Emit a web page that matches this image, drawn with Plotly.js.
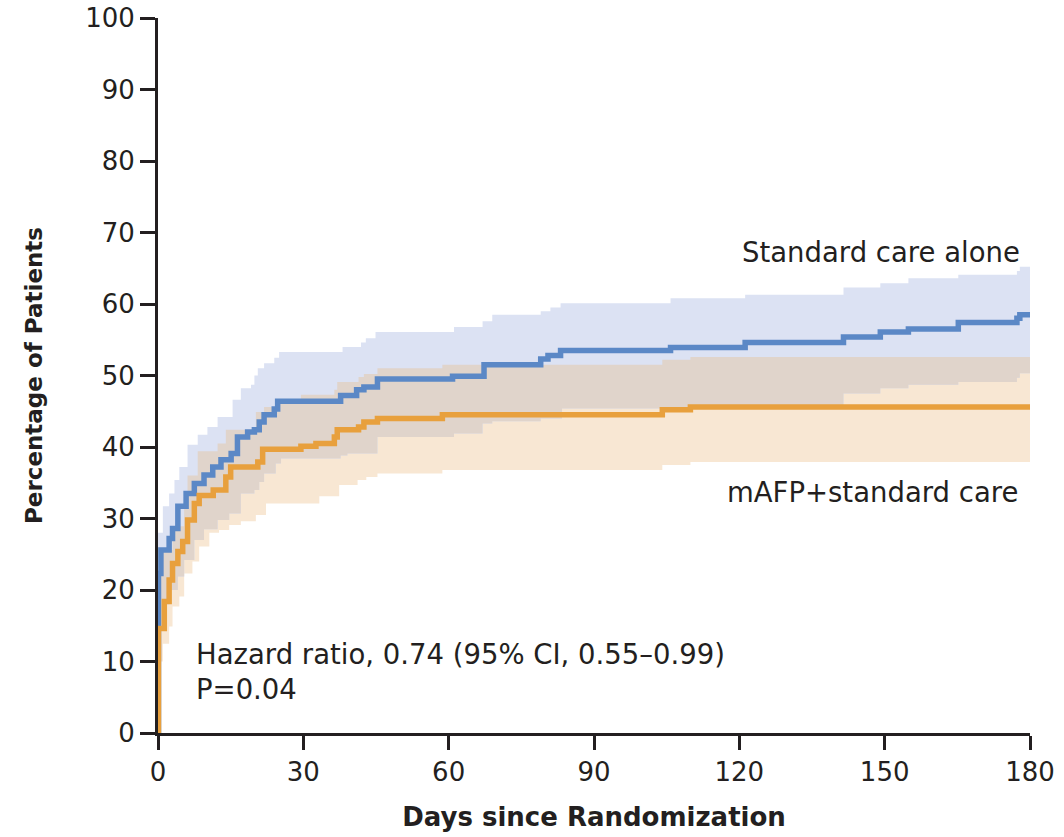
<!DOCTYPE html>
<html>
<head>
<meta charset="utf-8">
<script src="https://cdn.plot.ly/plotly-3.0.1.min.js"></script>
<style>html,body{margin:0;padding:0;background:#fff;}#chart{width:1064px;height:837px;}</style>
</head>
<body>
<div id="chart"></div>
<script>
// Standard care alone (blue) - cumulative percentage, step times in days
const blueT = [0, 0.1, 0.6, 2.3, 3.0, 4.1, 5.8, 7.5, 9.5, 11.3, 13.0, 15.1, 16.4, 18.5, 19.9, 20.9, 21.9, 24.0, 24.7, 37.7, 41.0, 42.5, 45.3, 60.8, 67.3, 79.0, 80.5, 83.1, 105.8, 121.2, 141.5, 149.1, 154.9, 165.2, 177.3, 177.9, 180];
const blueY = [0, 22.3, 25.6, 27.2, 28.6, 31.7, 33.5, 34.9, 36.1, 37.2, 38.2, 39.1, 41.4, 42.1, 42.4, 43.5, 44.5, 45.3, 46.4, 47.2, 48.0, 48.4, 49.5, 49.9, 51.5, 52.3, 52.8, 53.5, 53.9, 54.6, 55.4, 56.1, 56.5, 57.4, 58.0, 58.5, 58.5];
// Standard care 95% CI
const blueHiT = [0, 1.0, 2.3, 3.4, 4.4, 6.1, 8.2, 10.2, 12.3, 15.4, 17.1, 19.2, 19.9, 20.6, 21.9, 24.0, 25.0, 38.1, 41.9, 42.9, 44.9, 61.1, 67.0, 69.0, 79.0, 81.0, 83.1, 105.8, 121.2, 141.5, 149.1, 154.9, 165.2, 177.3, 177.9, 180];
const blueHiY = [28.0, 31.7, 33.5, 35.4, 37.2, 40.3, 41.7, 42.8, 44.2, 46.6, 48.2, 48.7, 50.0, 51.0, 51.7, 52.5, 53.3, 54.0, 54.6, 55.2, 56.1, 56.8, 57.6, 58.5, 59.0, 59.5, 60.1, 60.8, 61.3, 62.3, 62.9, 63.6, 64.1, 64.6, 65.2, 65.2];
const blueLoT = [0, 1.0, 2.3, 4.1, 5.4, 7.5, 9.5, 12.3, 14.7, 17.1, 19.9, 20.9, 21.9, 24.3, 25.4, 37.7, 39.1, 45.3, 61.1, 67.0, 69.0, 79.0, 83.4, 141.5, 149.1, 154.9, 165.2, 177.3, 177.9, 180];
const blueLoY = [15.0, 18.0, 20.0, 21.9, 24.2, 27.0, 28.5, 29.8, 30.7, 33.5, 34.0, 35.1, 36.3, 37.7, 38.4, 38.8, 39.1, 41.4, 41.9, 43.3, 43.6, 44.0, 45.4, 47.5, 48.2, 48.7, 49.1, 49.7, 50.3, 50.3];

// mAFP + standard care (orange)
const orgT = [0, 0.1, 1.3, 2.3, 3.0, 4.1, 5.1, 6.1, 7.5, 8.5, 11.4, 14.0, 15.0, 20.6, 21.6, 29.5, 32.6, 36.4, 37.0, 41.4, 42.5, 45.3, 58.7, 104.1, 109.9, 180];
const orgY = [0, 14.6, 18.4, 21.4, 23.7, 25.4, 26.8, 29.8, 32.1, 33.2, 34.0, 35.8, 37.2, 37.9, 39.7, 40.1, 40.5, 41.4, 42.4, 42.8, 43.5, 44.0, 44.5, 45.2, 45.6, 45.6];
const orgHiT = [0, 0.5, 3.0, 5.4, 6.1, 8.2, 12.3, 14.0, 20.2, 21.9, 24.7, 29.5, 36.4, 37.0, 41.4, 42.5, 45.3, 58.7, 104.1, 109.9, 180];
const orgHiY = [22.0, 25.6, 28.9, 32.1, 36.0, 39.4, 40.5, 42.4, 44.9, 45.6, 46.5, 47.3, 48.0, 49.1, 49.8, 50.2, 51.0, 51.5, 52.2, 52.6, 52.6];
const orgLoT = [0, 1.0, 2.3, 3.0, 4.4, 5.4, 7.1, 8.5, 10.6, 12.6, 14.7, 17.1, 20.2, 22.3, 33.3, 37.4, 41.2, 43.0, 45.3, 58.7, 104.1, 109.9, 180];
const orgLoY = [10.0, 12.5, 14.9, 17.7, 19.1, 22.3, 24.0, 26.1, 28.0, 28.4, 29.1, 29.6, 30.5, 32.1, 33.1, 34.7, 35.4, 35.8, 36.3, 36.8, 37.5, 37.9, 37.9];

const xTicks = [0, 30, 60, 90, 120, 150, 180];
const yTicks = [0, 10, 20, 30, 40, 50, 60, 70, 80, 90, 100];

const labelBlue = 'Standard care alone';
const labelOrg = 'mAFP+standard care';
const statText1 = 'Hazard ratio, 0.74 (95% CI, 0.55\u20130.99)';
const statText2 = 'P=0.04';

const BLUE = '#5b88c6', ORANGE = '#e8a03d';
const BLUE_BAND = '#dce2f3', ORG_BAND = '#f8e7d3', OVERLAP = '#e0d4cb';
const INK = '#231f20';

function band(x, y, fill, fillcolor) {
  return {x: x, y: y, type: 'scatter', mode: 'lines', line: {shape: 'hv', width: 0, color: 'rgba(0,0,0,0)'},
          fill: fill, fillcolor: fillcolor, hoverinfo: 'skip', showlegend: false};
}

const traces = [
  band(orgLoT, orgLoY, 'none', ORG_BAND),
  band(orgHiT, orgHiY, 'tonexty', ORG_BAND),
  band(blueLoT, blueLoY, 'none', BLUE_BAND),
  band(blueHiT, blueHiY, 'tonexty', BLUE_BAND),
  band(blueLoT, blueLoY, 'none', OVERLAP),
  band(orgHiT, orgHiY, 'tonexty', OVERLAP),
  {x: blueT, y: blueY, type: 'scatter', mode: 'lines', line: {shape: 'hv', width: 5.5, color: BLUE}, showlegend: false, name: labelBlue},
  {x: orgT, y: orgY, type: 'scatter', mode: 'lines', line: {shape: 'hv', width: 5.5, color: ORANGE}, showlegend: false, name: labelOrg}
];

const tickFont = {family: 'DejaVu Sans', size: 26, color: INK};
const noteFont = {family: 'DejaVu Sans', size: 27.5, color: INK};

const layout = {
  width: 1064, height: 837,
  margin: {l: 158, r: 34, t: 18, b: 104},
  paper_bgcolor: '#fff', plot_bgcolor: '#fff',
  showlegend: false,
  xaxis: {
    range: [0, 180], tickvals: xTicks, ticktext: xTicks.map(String),
    showgrid: false, zeroline: false, showline: true, linecolor: INK, linewidth: 3,
    ticks: 'outside', ticklen: 14, tickwidth: 3, tickcolor: INK,
    tickfont: tickFont,
    title: {text: 'Days since Randomization', font: {family: 'DejaVu Sans', size: 26, color: INK, weight: 'bold'}, standoff: 22}
  },
  yaxis: {
    range: [0, 100], tickvals: yTicks, ticktext: yTicks.map(String),
    showgrid: false, zeroline: false, showline: true, linecolor: INK, linewidth: 3,
    ticks: 'outside', ticklen: 15, tickwidth: 3, tickcolor: INK,
    tickfont: tickFont,
    title: {text: 'Percentage of Patients', font: {family: 'DejaVu Sans', size: 23, color: INK, weight: 'bold'}, standoff: 37}
  },
  annotations: [
    {x: 178.4, y: 67.3, xref: 'x', yref: 'y', text: labelBlue, showarrow: false, xanchor: 'right', yanchor: 'middle', font: noteFont},
    {x: 177.9, y: 33.7, xref: 'x', yref: 'y', text: labelOrg, showarrow: false, xanchor: 'right', yanchor: 'middle', font: noteFont},
    {x: 7.4, y: 11.1, xref: 'x', yref: 'y', text: statText1, showarrow: false, xanchor: 'left', yanchor: 'middle', font: noteFont},
    {x: 7.4, y: 6.2, xref: 'x', yref: 'y', text: statText2, showarrow: false, xanchor: 'left', yanchor: 'middle', font: noteFont}
  ]
};

Plotly.newPlot('chart', traces, layout, {displayModeBar: false, staticPlot: true});
</script>
</body>
</html>
